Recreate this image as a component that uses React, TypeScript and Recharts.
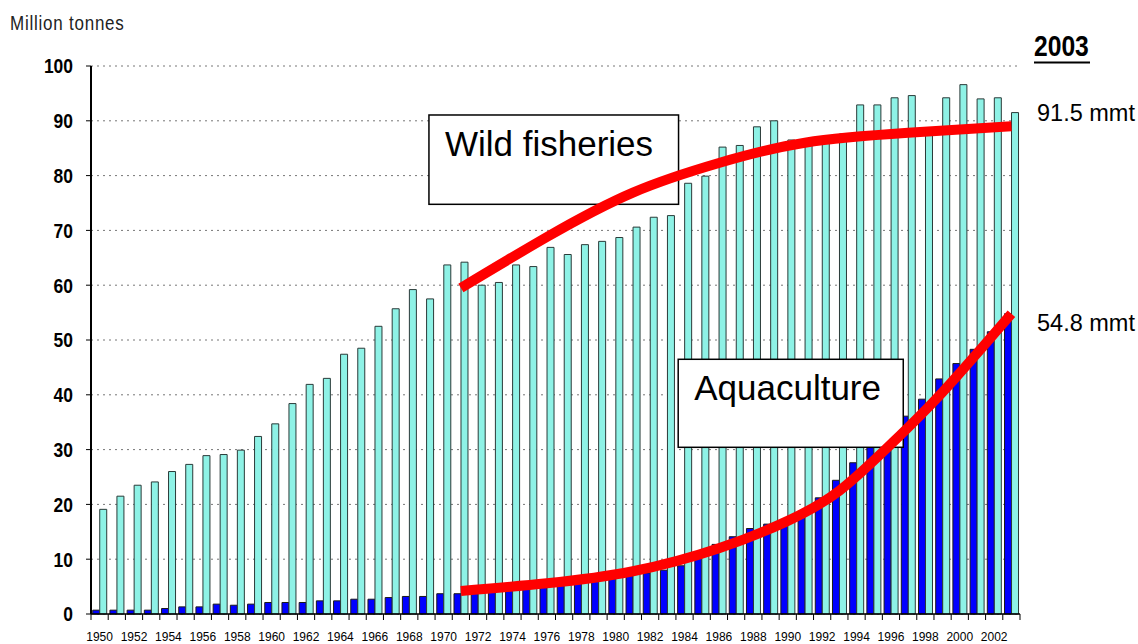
import { ComposedChart, Bar, Line, XAxis, YAxis, CartesianGrid, ReferenceArea } from "recharts";

const years = Array.from({ length: 54 }, (_, i) => String(1950 + i));

// million tonnes
const aquaculture = [
  0.7, 0.7, 0.7, 0.7, 1.0, 1.3, 1.3, 1.8, 1.6, 1.8,
  2.1, 2.1, 2.1, 2.4, 2.4, 2.7, 2.7, 3.0, 3.2, 3.2,
  3.7, 3.7, 4.0, 4.3, 4.6, 4.8, 5.1, 5.4, 5.8, 6.1,
  6.5, 7.0, 7.5, 8.0, 8.8, 10.4, 12.7, 14.1, 15.6, 16.4,
  17.0, 18.4, 21.2, 24.4, 27.6, 30.9, 34.0, 36.1, 39.2, 42.9,
  45.7, 48.3, 51.5, 54.8,
];

const wildFisheries = [
  19.1, 21.5, 23.5, 24.1, 26.0, 27.3, 28.9, 29.1, 29.9, 32.4,
  34.7, 38.4, 41.9, 43.0, 47.4, 48.5, 52.5, 55.7, 59.2, 57.5,
  63.7, 64.2, 60.0, 60.5, 63.7, 63.4, 66.9, 65.6, 67.4, 68.0,
  68.7, 70.6, 72.4, 72.7, 78.6, 79.9, 85.2, 85.5, 88.9, 90.0,
  86.5, 85.8, 86.0, 87.6, 92.9, 92.9, 94.2, 94.6, 87.6, 94.2,
  96.6, 94.0, 94.2, 91.5,
];

// hand-drawn trend curves, sampled at a few years
const wildTrendYears = ["1971", "1976", "1981", "1986", "1991", "1997", "2003"];
const wildTrendValues = [59.5, 68.8, 76.9, 82.3, 86.0, 87.8, 89.0];
const aquaTrendYears = ["1971", "1976", "1981", "1986", "1990", "1993", "1996", "1999", "2003"];
const aquaTrendValues = [4.2, 5.6, 7.8, 12.0, 17.0, 22.5, 31.0, 40.5, 54.8];

const yTicks = [0, 10, 20, 30, 40, 50, 60, 70, 80, 90, 100];

const data = years.map((year, i) => {
  const w = wildTrendYears.indexOf(year);
  const a = aquaTrendYears.indexOf(year);
  return {
    year,
    aqua: aquaculture[i],
    wild: wildFisheries[i],
    wildTrend: w >= 0 ? wildTrendValues[w] : null,
    aquaTrend: a >= 0 ? aquaTrendValues[a] : null,
  };
});

const WIDTH = 1138;
const HEIGHT = 644;
const MARGIN = { top: 66, right: 118, bottom: 0, left: 0 };
const Y_AXIS_W = 91;
const BAND = (WIDTH - MARGIN.right - MARGIN.left - Y_AXIS_W) / years.length;

const ARIAL = "'Liberation Sans', Arial, sans-serif";

function labelBox(text: string) {
  return (props: any) => (
    <g>
      <rect
        x={props.x}
        y={props.y}
        width={props.width}
        height={props.height}
        fill="#fff"
        stroke="#000"
        strokeWidth={1.5}
      />
      <text x={props.x + 16} y={props.y + 41} fontSize={35} fontFamily={ARIAL} fill="#000">
        {text}
      </text>
    </g>
  );
}

// condensed bold numbers like the original's Arial Narrow
function YTick(props: any) {
  const { x, y, payload } = props;
  return (
    <text
      transform={`translate(${x},${y}) scale(0.85,1)`}
      textAnchor="end"
      dy="0.36em"
      fontSize={20.5}
      fontWeight={700}
      fontFamily={ARIAL}
      fill="#000"
    >
      {payload.value}
    </text>
  );
}

// tick marks sit on the category boundaries, labels on every other year
function XTick(props: any) {
  const { x, y, payload, index } = props;
  const half = BAND / 2;
  return (
    <g>
      <line x1={x - half} x2={x - half} y1={y} y2={y + 6} stroke="#000" />
      {index === years.length - 1 && <line x1={x + half} x2={x + half} y1={y} y2={y + 6} stroke="#000" />}
      {index % 2 === 0 && (
        <text x={x} y={y + 27} textAnchor="middle" fontSize={12} fontFamily={ARIAL} fill="#000">
          {payload.value}
        </text>
      )}
    </g>
  );
}

export default function App() {
  return (
    <div style={{ position: "absolute", left: 0, top: 0, width: WIDTH, height: HEIGHT, background: "#fff" }}>
      <ComposedChart
        width={WIDTH}
        height={HEIGHT}
        data={data}
        margin={MARGIN}
        barCategoryGap="10%"
        barGap={0}
      >
        <CartesianGrid vertical={false} stroke="#777" strokeDasharray="2 4" />
        <XAxis
          dataKey="year"
          type="category"
          interval={0}
          height={30}
          tickSize={0}
          tickMargin={0}
          axisLine={{ stroke: "#000", strokeWidth: 1.5 }}
          tickLine={false}
          tick={<XTick />}
        />
        <XAxis xAxisId="box" type="number" domain={[0, 54]} allowDataOverflow hide />
        <YAxis
          domain={[0, 100]}
          ticks={yTicks}
          interval={0}
          width={Y_AXIS_W}
          tickSize={5}
          tickMargin={13}
          axisLine={{ stroke: "#000", strokeWidth: 2 }}
          tickLine={{ stroke: "#000" }}
          tick={<YTick />}
        />
        <Bar dataKey="aqua" fill="#0000FF" stroke="#1a1a1a" strokeWidth={1} isAnimationActive={false} />
        <Bar dataKey="wild" fill="#8EF2E6" stroke="#2a3a38" strokeWidth={1} isAnimationActive={false} />
        <ReferenceArea
          xAxisId="box"
          x1={19.28}
          x2={33.52}
          y1={74.76}
          y2={91.06}
          ifOverflow="visible"
          zIndex={350}
          shape={labelBox("Wild fisheries")}
        />
        <ReferenceArea
          xAxisId="box"
          x1={33.5}
          x2={46.34}
          y1={30.42}
          y2={46.48}
          ifOverflow="visible"
          zIndex={350}
          shape={labelBox("Aquaculture")}
        />
        <Line
          dataKey="wildTrend"
          type="natural"
          stroke="#FF0000"
          strokeWidth={10}
          dot={false}
          activeDot={false}
          connectNulls
          isAnimationActive={false}
        />
        <Line
          dataKey="aquaTrend"
          type="natural"
          stroke="#FF0000"
          strokeWidth={10}
          dot={false}
          activeDot={false}
          connectNulls
          isAnimationActive={false}
        />
      </ComposedChart>
      <svg width={WIDTH} height={HEIGHT} style={{ position: "absolute", left: 0, top: 0, pointerEvents: "none" }}>
        <text
          transform="translate(10,30) scale(0.85,1)"
          fontSize={20}
          letterSpacing={0.9}
          fontFamily={ARIAL}
          fill="#222"
        >
          Million tonnes
        </text>
        <text
          transform="translate(1034,56) scale(0.85,1)"
          fontSize={29}
          fontWeight={700}
          fontFamily={ARIAL}
          fill="#000"
        >
          2003
        </text>
        <line x1={1034} x2={1090} y1={62.5} y2={62.5} stroke="#000" strokeWidth={2} />
        <text x={1037} y={121} fontSize={23.5} fontFamily={ARIAL} fill="#000">
          91.5 mmt
        </text>
        <text x={1037} y={331} fontSize={23.5} fontFamily={ARIAL} fill="#000">
          54.8 mmt
        </text>
      </svg>
    </div>
  );
}
